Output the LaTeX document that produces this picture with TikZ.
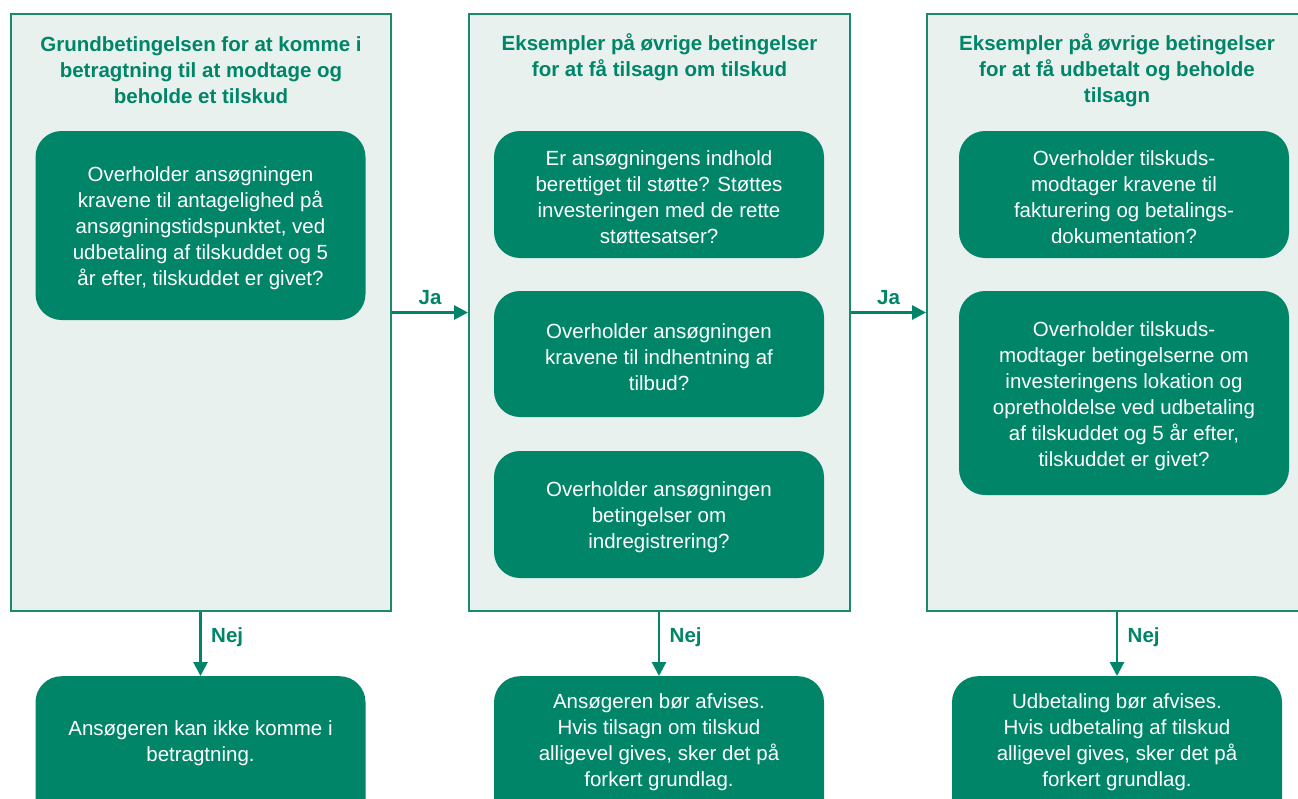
\documentclass[tikz,border=0pt]{standalone}
\usepackage{fontspec}
\setmainfont{Liberation Sans}
\usetikzlibrary{arrows.meta}
\definecolor{dkgreen}{RGB}{0,133,104}
\definecolor{panelfill}{RGB}{232,241,238}
\definecolor{panelline}{RGB}{26,138,108}
\tikzset{
  panel/.style={draw=panelline, line width=2pt, fill=panelfill, inner sep=0pt},
  gbox/.style={fill=dkgreen, rounded corners=26pt, inner sep=0pt},
  gtext/.style={text=white, align=center, yshift=-3pt, font=\fontsize{20.5}{26}\selectfont},
  title/.style={text=dkgreen, align=center, font=\bfseries\fontsize{20.5}{26}\selectfont},
  conn/.style={draw=dkgreen, line width=2.8pt, -{Triangle[length=14pt,width=14pt]}},
  clab/.style={text=dkgreen, font=\bfseries\fontsize{20.5}{22}\selectfont}
}
\begin{document}
\begin{tikzpicture}[x=1pt,y=-1pt]
\useasboundingbox (0,0) rectangle (1298,798);
\clip (0,0) rectangle (1298,798);
\fill[white] (0,0) rectangle (1298,798);
% panels
\node[panel, minimum width=380pt, minimum height=597pt] (p1) at (201,312.5) {};
\node[panel, minimum width=381pt, minimum height=597pt] (p2) at (659.5,312.5) {};
\node[panel, minimum width=380pt, minimum height=597pt] (p3) at (1117,312.5) {};
% titles
\node[title] (t1) at (201,70) {Grundbetingelsen for at komme i\\betragtning til at modtage og\\beholde et tilskud};
\node[title] (t2) at (659.5,57) {Eksempler på øvrige betingelser\\for at få tilsagn om tilskud};
\node[title] (t3) at (1117,70) {Eksempler på øvrige betingelser\\for at få udbetalt og beholde\\tilsagn};
% inner boxes
\node[gbox, minimum width=330pt, minimum height=189pt] (a1) at (200.5,225.5) {};
\node[gtext] (a1t) at (a1) {Overholder ansøgningen\\kravene til antagelighed på\\ansøgningstidspunktet, ved\\udbetaling af tilskuddet og 5\\år efter, tilskuddet er givet?};
\node[gbox, minimum width=330pt, minimum height=127pt] (b1) at (659,194.5) {};
\node[gtext] (b1t) at (b1) {Er ansøgningens indhold\\berettiget til støtte? Støttes\\investeringen med de rette\\støttesatser?};
\node[gbox, minimum width=330pt, minimum height=126pt] (b2) at (659,354) {};
\node[gtext] (b2t) at (b2) {Overholder ansøgningen\\kravene til indhentning af\\tilbud?};
\node[gbox, minimum width=330pt, minimum height=127pt] (b3) at (659,514.5) {};
\node[gtext] (b3t) at (b3) {Overholder ansøgningen\\betingelser om\\indregistrering?};
\node[gbox, minimum width=330pt, minimum height=127pt] (c1) at (1124,194.5) {};
\node[gtext] (c1t) at (c1) {Overholder tilskuds-\\modtager kravene til\\fakturering og betalings-\\dokumentation?};
\node[gbox, minimum width=330pt, minimum height=204pt] (c2) at (1124,393) {};
\node[gtext] (c2t) at (c2) {Overholder tilskuds-\\modtager betingelserne om\\investeringens lokation og\\opretholdelse ved udbetaling\\af tilskuddet og 5 år efter,\\tilskuddet er givet?};
% bottom boxes
\node[gbox, minimum width=330pt, minimum height=150pt, anchor=north] (d1) at (200.5,676) {};
\node[gtext] (d1t) at (200.5,740) {Ansøgeren kan ikke komme i\\betragtning.};
\node[gbox, minimum width=330pt, minimum height=150pt, anchor=north] (d2) at (659,676) {};
\node[gtext] (d2t) at (659,739) {Ansøgeren bør afvises.\\Hvis tilsagn om tilskud\\alligevel gives, sker det på\\forkert grundlag.};
\node[gbox, minimum width=330pt, minimum height=150pt, anchor=north] (d3) at (1117,676) {};
\node[gtext] (d3t) at (1117,739) {Udbetaling bør afvises.\\Hvis udbetaling af tilskud\\alligevel gives, sker det på\\forkert grundlag.};
% connectors
\draw[conn] (p1.east) -- node[clab, above=3pt] {Ja} (p2.west);
\draw[conn] (p2.east) -- node[clab, above=3pt] {Ja} (p3.west);
\draw[conn] (p1.south -| d1.north) -- node[clab, right=6pt, pos=0.4] {Nej} (d1.north);
\draw[conn] (p2.south -| d2.north) -- node[clab, right=6pt, pos=0.4] {Nej} (d2.north);
\draw[conn] (p3.south -| d3.north) -- node[clab, right=6pt, pos=0.4] {Nej} (d3.north);
\end{tikzpicture}
\end{document}
